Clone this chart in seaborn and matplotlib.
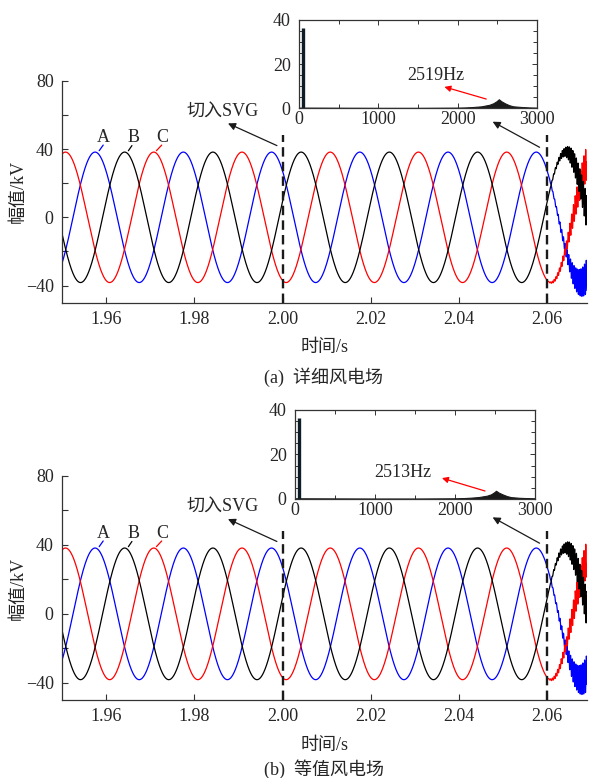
import numpy as np
import pandas as pd
import matplotlib
matplotlib.use("Agg")
import matplotlib.pyplot as plt
from matplotlib.ticker import MultipleLocator, FixedLocator
import seaborn as sns

# ---- three-phase bus voltage (kV) ----
phase_names = ["A", "B", "C"]
phase_colors = ["#0000ff", "#000000", "#ff0000"]
crest_times = [1.9575, 1.9642, 1.9508]      # first crest of each phase in the window (s)
amplitude_kv = 38.2
fundamental_hz = 50.0

svg_on_time = 2.00          # SVG switched in
instability_time = 2.06     # high-frequency oscillation starts to build up
marker_top_kv = 48.0

# growing high-frequency component, one envelope per case
osc_hz = [2519, 2513]
osc_env_t = [2.060, 2.062, 2.064, 2.066, 2.068, 2.069]
osc_env_kv_a = [0.0, 1.0, 2.5, 6.0, 8.5, 10.0]
osc_env_kv_b = [0.0, 1.2, 2.8, 6.5, 9.0, 10.5]
osc_phase_deg = [0.0, -120.0, 120.0]

# ---- FFT of the voltage (kV) ----
spike_hz = 50
spike_kv = [36.4, 36.3]
spec_hz_a = [0, 100, 500, 1000, 1500, 2000, 2100, 2200, 2300, 2400, 2450,
             2490, 2519, 2550, 2600, 2650, 2700, 2800, 2900, 3000]
spec_kv_a = [0.3, 0.3, 0.25, 0.2, 0.2, 0.3, 0.4, 0.6, 0.9, 1.6, 2.3,
             3.2, 4.1, 3.2, 2.2, 1.4, 0.9, 0.6, 0.4, 0.3]
spec_hz_b = [0, 100, 500, 1000, 1500, 2000, 2100, 2200, 2300, 2400, 2450,
             2485, 2513, 2545, 2600, 2650, 2700, 2800, 2900, 3000]
spec_kv_b = [0.3, 0.3, 0.25, 0.2, 0.2, 0.3, 0.4, 0.6, 0.9, 1.5, 2.1,
             2.9, 3.7, 2.9, 2.0, 1.3, 0.85, 0.55, 0.4, 0.3]

peak_labels = ["2519Hz", "2513Hz"]
captions = ["(a)  详细风电场", "(b)  等值风电场"]

x_ticks = [1.96, 1.98, 2.00, 2.02, 2.04, 2.06]
y_ticks = [-40, 0, 40, 80]

FS = 13

sns.set_theme(style="ticks")
plt.rcParams["font.family"] = ["Liberation Serif", "Noto Sans CJK SC"]
plt.rcParams["axes.unicode_minus"] = True
plt.rcParams["font.size"] = FS

W, H = 589, 778
fig = plt.figure(figsize=(W / 100, H / 100), dpi=100)


def fig_rect(x0, y0, x1, y1):
    """pixel box (left, top, right, bottom) -> figure fraction rect"""
    return [x0 / W, 1 - y1 / H, (x1 - x0) / W, (y1 - y0) / H]


main_boxes = [(62, 80.7, 587, 302.7), (62, 476, 587, 700)]
inset_boxes = [(299, 20, 537, 108.3), (295, 410, 535, 499)]
caption_y = [377, 769]

spec_hz = [spec_hz_a, spec_hz_b]
spec_kv = [spec_kv_a, spec_kv_b]
osc_env = [osc_env_kv_a, osc_env_kv_b]
palette = dict(zip(phase_names, phase_colors))

for k in range(2):
    ax = fig.add_axes(fig_rect(*main_boxes[k]))

    t = np.arange(1.95, 2.06901, 1e-5)
    env = np.interp(t, osc_env_t, osc_env[k], left=0.0)
    frames = []
    for name, crest, ph in zip(phase_names, crest_times, osc_phase_deg):
        v = (amplitude_kv * np.cos(2 * np.pi * fundamental_hz * (t - crest))
             + env * np.sin(2 * np.pi * osc_hz[k] * (t - instability_time) + np.deg2rad(ph)))
        frames.append(pd.DataFrame({"t": t, "kv": v, "phase": name}))
    df = pd.concat(frames, ignore_index=True)
    sns.lineplot(data=df, x="t", y="kv", hue="phase", hue_order=["A", "C", "B"],
                 palette=palette, estimator=None, sort=False, legend=False,
                 linewidth=0.9, ax=ax)

    for tx in (svg_on_time, instability_time):
        ax.plot([tx, tx], [-50, marker_top_kv], color="k", lw=1.7,
                ls=(0, (4, 2.2)), zorder=5)

    ax.set_xlim(1.95, 2.069)
    ax.set_ylim(-50, 80)
    ax.set_xticks(x_ticks)
    ax.set_xticklabels([f"{v:.2f}" for v in x_ticks])
    ax.set_yticks(y_ticks)
    ax.yaxis.set_minor_locator(FixedLocator([-20, 20, 60]))
    ax.tick_params(axis="both", which="both", direction="in", width=0.8,
                   color="#333333", labelsize=FS, pad=6)
    ax.tick_params(axis="both", which="major", length=4.5)
    ax.tick_params(axis="y", which="minor", length=4.5)
    for s in ("top", "right"):
        ax.spines[s].set_visible(False)
    for s in ("left", "bottom"):
        ax.spines[s].set_color("#333333")
        ax.spines[s].set_linewidth(0.9)

    ax.set_xlabel("时间/s", fontsize=FS)
    ax.set_ylabel("幅值/kV", fontsize=FS)
    ax.xaxis.label.set_va("center")
    ax.yaxis.label.set_va("center")
    ax.xaxis.set_label_coords(0.5, -45 / 223)
    ax.yaxis.set_label_coords(-44 / 525, 0.5)

    # phase tags with short leaders
    tags = [("A", "#0000ff", (1.95843, 39.0), (1.95934, 42.3), (1.95935, 46.8)),
            ("B", "#000000", (1.96505, 39.0), (1.96585, 42.0), (1.96620, 46.8)),
            ("C", "#ff0000", (1.97140, 39.0), (1.97260, 42.3), (1.97280, 46.8))]
    for label, col, p0, p1, pt in tags:
        ax.plot([p0[0], p1[0]], [p0[1], p1[1]], color=col, lw=0.9)
        ax.text(pt[0], pt[1], label, ha="center", va="center", fontsize=FS)

    arrow = dict(arrowstyle="-|>", color="k", lw=0.9, mutation_scale=11,
                 shrinkA=0, shrinkB=0)
    ax.annotate("", xy=(1.98762, 55.0), xytext=(1.99871, 42.0), arrowprops=arrow)
    ax.text(1.98645, 61.8, "切入SVG", ha="center", va="center", fontsize=FS)
    ax.annotate("", xy=(2.04761, 56.0), xytext=(2.05825, 41.0), arrowprops=arrow)

    # spectrum inset
    ai = fig.add_axes(fig_rect(*inset_boxes[k]))
    ai.fill_between(spec_hz[k], 0, spec_kv[k], color="k", lw=0.8)
    ai.vlines([spike_hz], 0, [spike_kv[k]], color="#0f1d26", lw=2.4)
    ai.set_xlim(0, 3000)
    ai.set_ylim(0, 40)
    ai.set_xticks([0, 1000, 2000, 3000])
    ai.xaxis.set_minor_locator(MultipleLocator(500))
    ai.set_yticks([0, 20, 40])
    ai.yaxis.set_minor_locator(MultipleLocator(5))
    ai.tick_params(axis="both", which="both", direction="in", top=True, right=True,
                   width=0.7, labelsize=FS, color="#333333")
    ai.tick_params(axis="both", which="major", length=3.5)
    ai.tick_params(axis="both", which="minor", length=3.0)
    ai.tick_params(axis="x", pad=2)
    ai.tick_params(axis="y", pad=6)
    for s in ai.spines.values():
        s.set_color("#333333")
        s.set_linewidth(0.9)
    ai.set_xlabel("")
    ai.set_ylabel("")

    txt_pos = [(1720, 14.7), (1350, 11.7)][k]
    head = [(1833, 9.7), (1837, 9.4)][k]
    tail = [(2360, 4.2), (2375, 3.6)][k]
    ai.annotate("", xy=head, xytext=tail,
                arrowprops=dict(arrowstyle="-|>", color="#ff0000", lw=0.9,
                                mutation_scale=9, shrinkA=0, shrinkB=0))
    ai.text(txt_pos[0], txt_pos[1], peak_labels[k], ha="center", va="center",
            fontsize=FS)

    fig.text(324 / W, 1 - caption_y[k] / H, captions[k], ha="center",
             va="center", fontsize=FS)

fig.savefig("out.png", dpi=100)
